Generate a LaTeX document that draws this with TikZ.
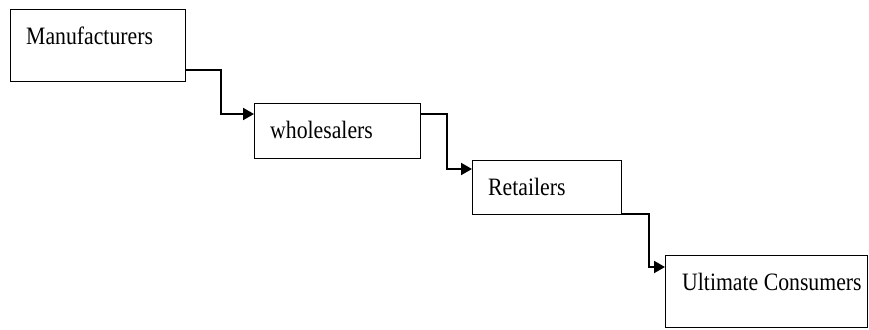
\documentclass[tikz,border=0pt]{standalone}
\usepackage{fontspec}
\setmainfont{Liberation Serif}[FakeStretch=0.87]
\usetikzlibrary{arrows.meta,calc}

\tikzset{
  stage/.style={draw=black, line width=1.3pt, rectangle, inner sep=0pt, anchor=north west},
  stagetext/.style={anchor=base west, inner sep=0pt, font=\fontsize{25}{30}\selectfont},
  conn/.style={line width=2pt, -{Triangle[length=11pt,width=12pt]}},
}

\begin{document}
\begin{tikzpicture}[x=1pt, y=-1pt]
  \useasboundingbox (0,0) rectangle (869,329);

  % channel stages
  \node[stage, minimum width=175pt, minimum height=72pt] (m) at (10,9) {};
  \node[stage, minimum width=166pt, minimum height=55pt] (w) at (254,103) {};
  \node[stage, minimum width=149pt, minimum height=54pt] (r) at (472,160) {};
  \node[stage, minimum width=202pt, minimum height=72pt] (c) at (665,255) {};

  % stage names
  \node[stagetext] (mt) at ($(m.north west)+(16,35.3)$) {Manufacturers};
  \node[stagetext] (wt) at ($(w.north west)+(16,35)$) {wholesalers};
  \node[stagetext] (rt) at ($(r.north west)+(16,35)$) {Retailers};
  \node[stagetext] (ct) at ($(c.north west)+(17,35)$) {Ultimate Consumers};

  % stepped connectors
  \draw[conn] ([yshift=12pt]m.south east) -- ++(35,0) |- ([yshift=-11pt]w.north west);
  \draw[conn] ([yshift=-11pt]w.north east) -- ++(26,0) |- ([yshift=-9pt]r.north west);
  \draw[conn] ([yshift=1pt]r.south east) -- ++(27,0) |- ([yshift=-12pt]c.north west);
\end{tikzpicture}
\end{document}
